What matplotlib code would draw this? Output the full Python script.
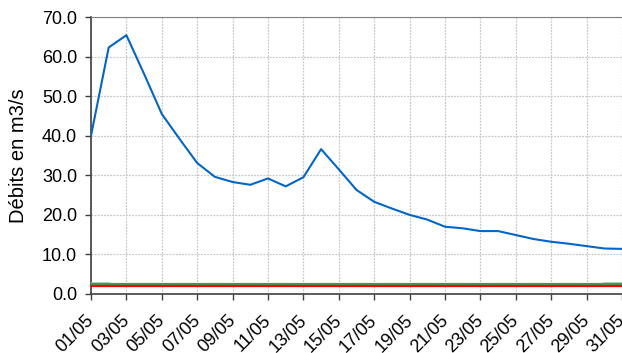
import matplotlib
matplotlib.use("Agg")
import matplotlib.pyplot as plt
import matplotlib.transforms as mtrans
import numpy as np

plt.rcParams['font.family'] = ['Liberation Sans', 'DejaVu Sans']

# debits journaliers mai
jours = np.arange(1, 32)
debit = [40.0, 62.3, 65.4, 55.6, 45.5, 39.2, 33.1, 29.6, 28.3, 27.6,
         29.2, 27.2, 29.5, 36.6, 31.5, 26.3, 23.3, 21.6, 20.0, 18.8,
         17.0, 16.6, 15.9, 15.9, 14.9, 13.9, 13.2, 12.7, 12.1, 11.5, 11.4]
seuil_vert = [2.5] * 31
seuil_rouge = [1.9] * 31
seuil_clair = [2.8, 2.8] + [np.nan] * 27 + [2.8, 2.8]
etiquettes = ["%02d/05" % j for j in range(1, 32, 2)]

fig = plt.figure(figsize=(6.22, 3.53), dpi=100)
ax = fig.add_axes([91/622, 1 - 294/353, 1 - 91/622, (294 - 17)/353])

ax.plot(jours, seuil_clair, '-', color='#a8d4b0', lw=1.2, zorder=3)
ax.plot(jours, seuil_vert, '-', color='#3c9a5c', lw=1.6, zorder=3)
ax.plot(jours, seuil_rouge, '-', color='#ff0000', lw=1.6, zorder=3)
ax.plot(jours, debit, '-', color='#0066cc', lw=1.5, zorder=4)

ax.set_xlim(1, 31)
ax.set_ylim(0, 70)
ax.grid(True, color='#c8c8c8', ls=(0, (1.5, 1)), lw=0.9)
ax.set_axisbelow(True)
ax.tick_params(direction='out', length=4.5, width=1, color='#404040')
ax.tick_params(axis='y', pad=5.5)
ax.tick_params(axis='x', pad=2)

ax.set_yticks(np.arange(0, 71, 10))
ax.set_yticklabels(["%.1f" % v for v in np.arange(0, 71, 10)], fontsize=13)
ax.set_xticks(np.arange(1, 32, 2))
ax.set_xticklabels(etiquettes, fontsize=13, rotation=45, ha='right',
                   va='top', rotation_mode='anchor')
# decalage des etiquettes (apres tick_params sinon il est perdu)
off = mtrans.ScaledTranslation(-4/72, -6.5/72, fig.dpi_scale_trans)
for lab in ax.get_xticklabels():
    lab.set_transform(lab.get_transform() + off)

ax.spines['left'].set_color('#404040')
ax.spines['bottom'].set_color('#404040')
ax.spines['left'].set_linewidth(1.2)
ax.spines['bottom'].set_linewidth(1.2)
ax.spines['top'].set_color('#808080')
ax.spines['right'].set_visible(False)
ax.set_ylabel("Débits en m3/s", fontsize=14.5)
ax.yaxis.set_label_coords(-0.118, 0.5)

fig.savefig("out.png", dpi=100)
